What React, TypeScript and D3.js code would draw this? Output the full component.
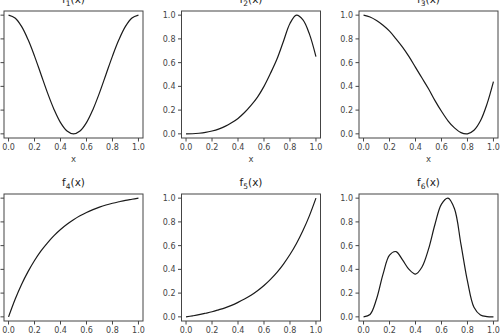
import React from 'react';
import * as d3 from 'd3';

// sample positions shared by all six panels
const xs = [0, 0.05, 0.1, 0.15, 0.2, 0.25, 0.3, 0.35, 0.4, 0.45, 0.5, 0.55, 0.6, 0.65, 0.7, 0.75, 0.8, 0.85, 0.9, 0.95, 1.0];

const f1 = [1.0, 0.976, 0.905, 0.794, 0.655, 0.5, 0.345, 0.206, 0.095, 0.024, 0.0, 0.024, 0.095, 0.206, 0.345, 0.5, 0.655, 0.794, 0.905, 0.976, 1.0];
const f2 = [0.0, 0.001, 0.005, 0.012, 0.024, 0.04, 0.063, 0.093, 0.13, 0.18, 0.24, 0.31, 0.4, 0.51, 0.63, 0.78, 0.93, 1.0, 0.96, 0.84, 0.65];
const f3 = [1.0, 0.985, 0.955, 0.915, 0.865, 0.8, 0.73, 0.65, 0.56, 0.47, 0.38, 0.28, 0.19, 0.11, 0.05, 0.01, 0.0, 0.03, 0.11, 0.25, 0.44];
const f4 = [0.0, 0.146, 0.273, 0.381, 0.475, 0.556, 0.624, 0.684, 0.736, 0.78, 0.818, 0.851, 0.879, 0.903, 0.924, 0.942, 0.957, 0.97, 0.982, 0.991, 1.0];
const f5 = [0.0, 0.0085, 0.018, 0.03, 0.043, 0.059, 0.076, 0.097, 0.122, 0.15, 0.182, 0.22, 0.264, 0.316, 0.375, 0.445, 0.525, 0.618, 0.727, 0.853, 1.0];
const f6 = [0.0, 0.02, 0.15, 0.36, 0.52, 0.55, 0.48, 0.4, 0.36, 0.42, 0.57, 0.78, 0.95, 1.0, 0.91, 0.61, 0.3, 0.08, 0.015, 0.002, 0.0];

const series = [f1, f2, f3, f4, f5, f6];
const subscripts = ['1', '2', '3', '4', '5', '6'];
const tickValues = [0, 0.2, 0.4, 0.6, 0.8, 1.0];

const width = 500;
const height = 336;
const colLeft = [4, 181.5, 359];
const rowTop = [11, 194];
const panelW = 139;
const panelH = 127;
const font = 'DejaVu Sans, sans-serif';

const Panel: React.FC<{ idx: number }> = ({ idx }) => {
  const left = colLeft[idx % 3];
  const top = rowTop[Math.floor(idx / 3)];
  const xScale = d3.scaleLinear().domain([-0.035, 1.035]).range([0, panelW]);
  const yScale = d3.scaleLinear().domain([-0.035, 1.035]).range([panelH, 0]);
  const pts: [number, number][] = xs.map((x, i) => [x, series[idx][i]]);
  const line = d3.line<[number, number]>()
    .x(d => xScale(d[0]))
    .y(d => yScale(d[1]))
    .curve(d3.curveCatmullRom.alpha(0.5));

  return (
    <g transform={`translate(${left}, ${top})`}>
      <text x={panelW / 2} y={-8} textAnchor="middle" fontSize={10.5} fill="#222" fontFamily={font}>
        f<tspan fontSize={7.5} dy={2.5}>{subscripts[idx]}</tspan><tspan dy={-2.5}>(x)</tspan>
      </text>
      <path d={line(pts) || ''} fill="none" stroke="#1a1a1a" strokeWidth={1.2} />
      <rect x={0} y={0} width={panelW} height={panelH} fill="none" stroke="#444" strokeWidth={1} />
      {tickValues.map(v => (
        <g key={'x' + v} transform={`translate(${xScale(v)}, ${panelH})`}>
          <line y2={3.5} stroke="#444" />
          <text y={12} textAnchor="middle" fontSize={8} fill="#444" fontFamily={font}>{v.toFixed(1)}</text>
        </g>
      ))}
      {tickValues.map(v => (
        <g key={'y' + v} transform={`translate(0, ${yScale(v)})`}>
          <line x2={-3.5} stroke="#444" />
          <text x={-6} y={3} textAnchor="end" fontSize={8} fill="#444" fontFamily={font}>{v.toFixed(1)}</text>
        </g>
      ))}
      <text x={panelW / 2} y={panelH + 24} textAnchor="middle" fontSize={8.5} fill="#444" fontFamily={font}>x</text>
    </g>
  );
};

const App: React.FC = () => (
  <svg width={width} height={height} style={{ position: 'absolute', left: 0, top: 0, background: '#fff' }}>
    {series.map((_, i) => <Panel key={i} idx={i} />)}
  </svg>
);

export default App;
